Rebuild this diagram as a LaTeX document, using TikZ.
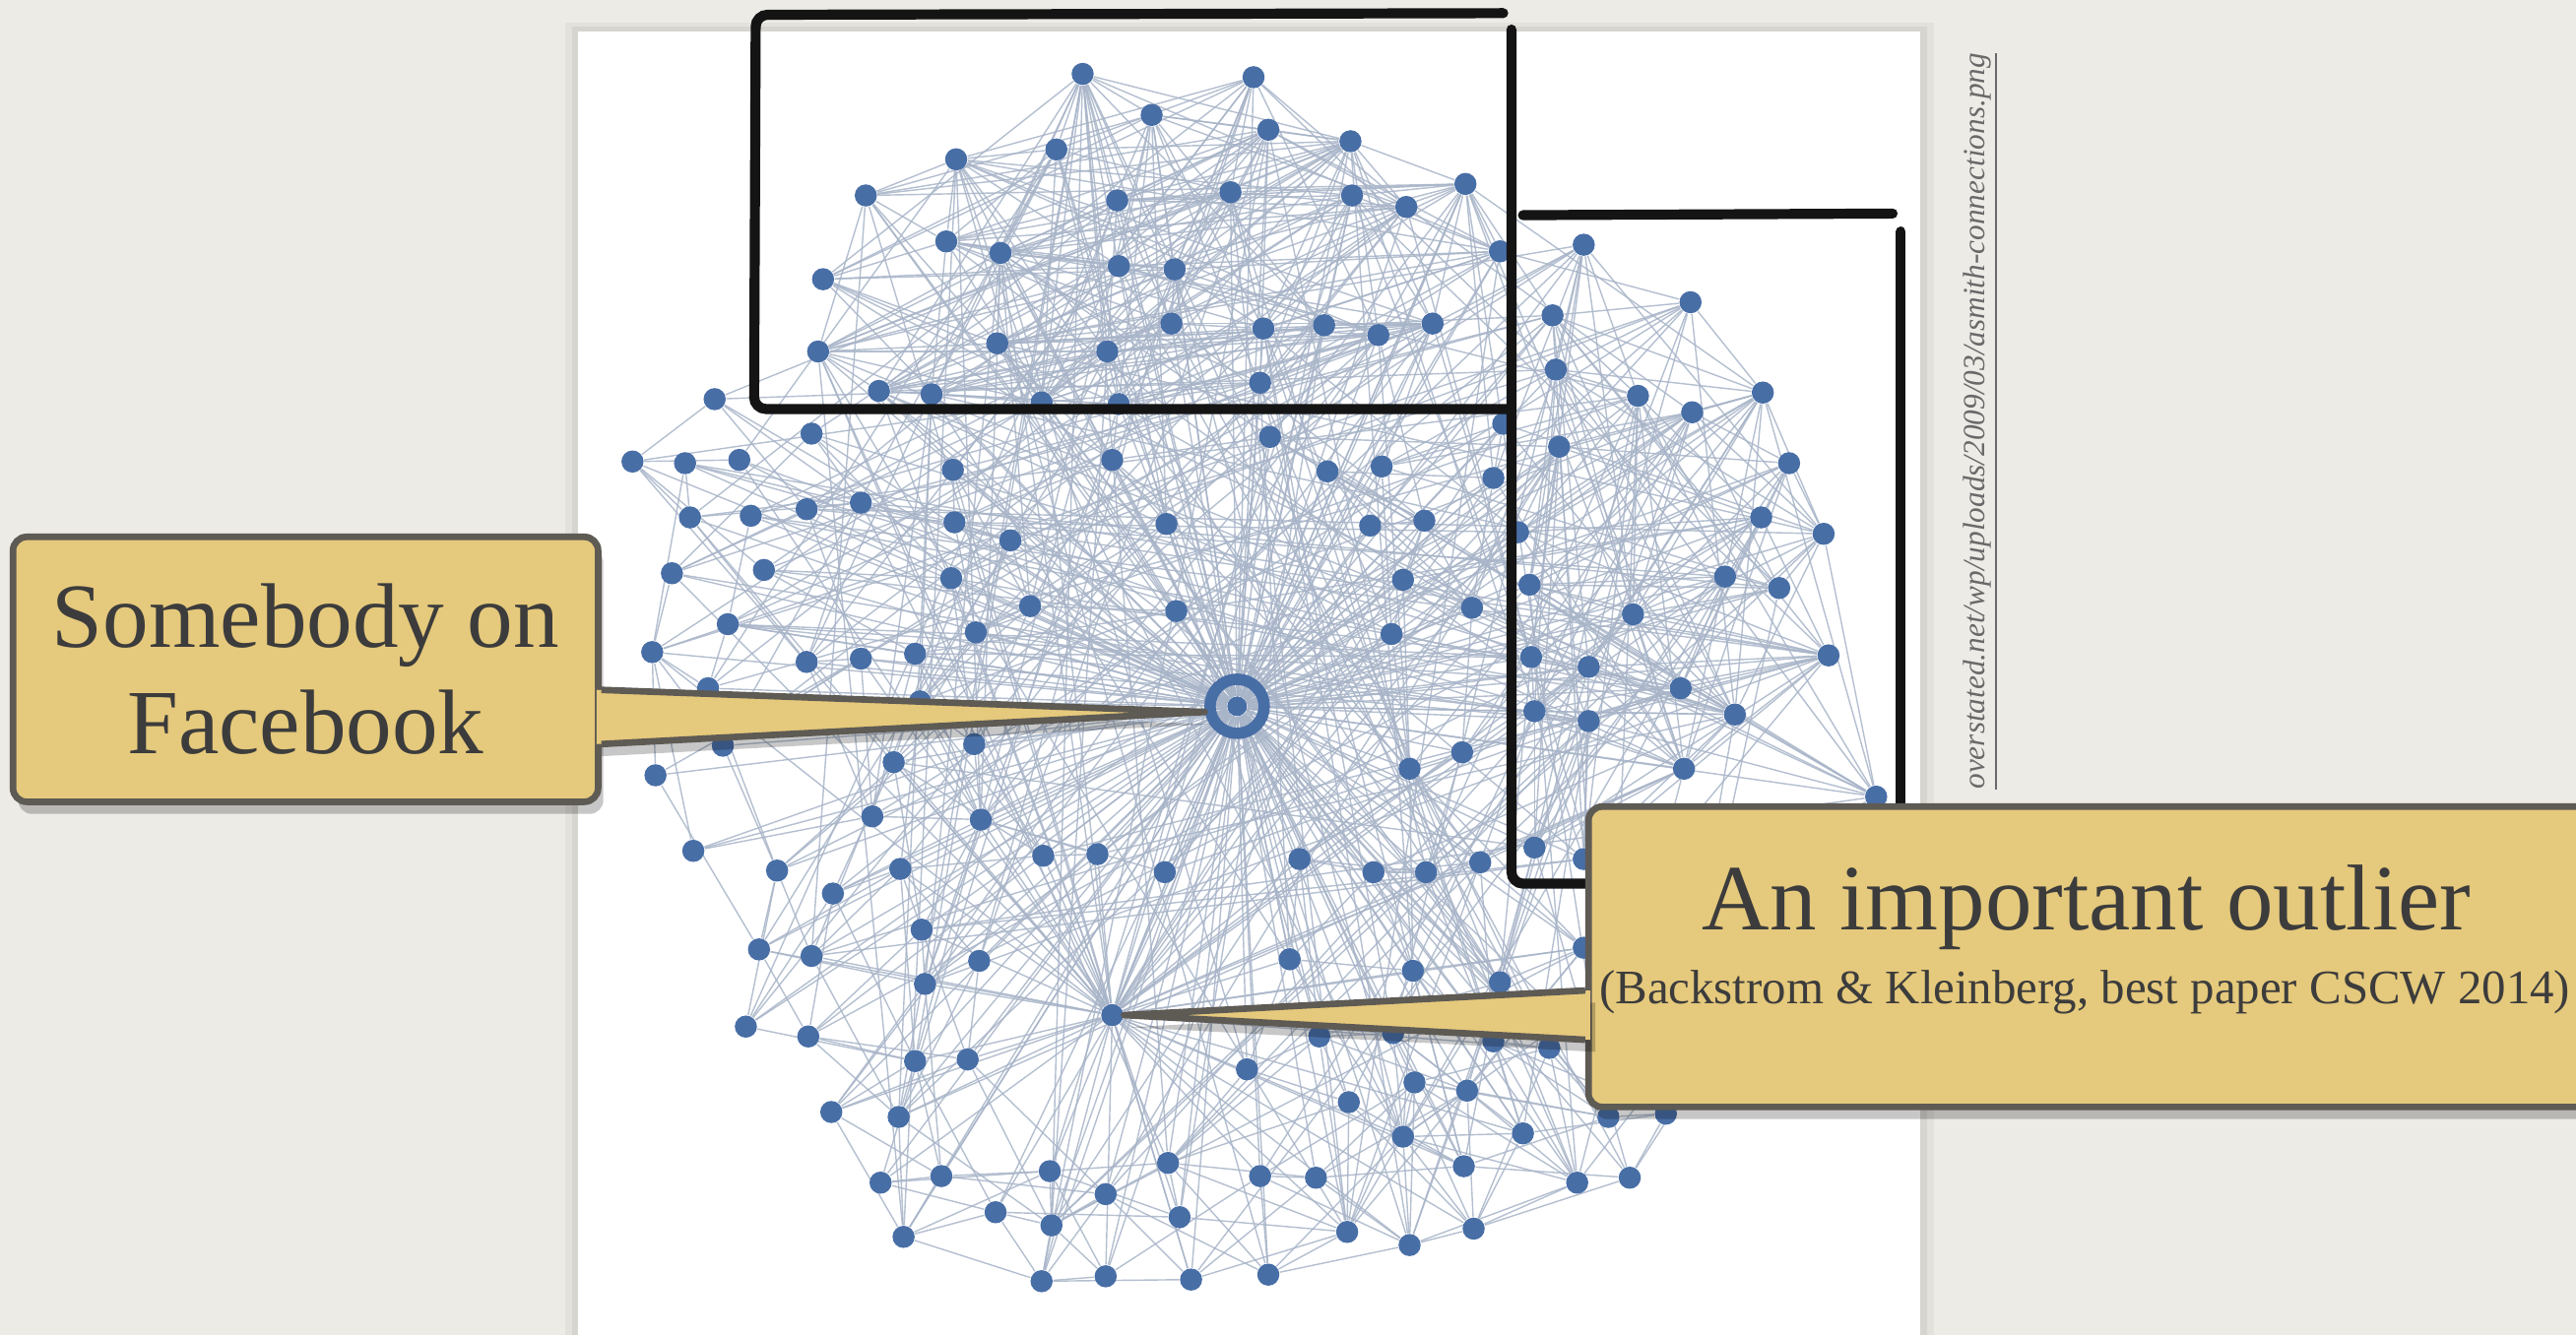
\documentclass[tikz,border=0pt]{standalone}
\usepackage{fontspec}
\setmainfont{Liberation Serif}
\usetikzlibrary{calc,shadows}

\definecolor{paper}{RGB}{237,235,230}
\definecolor{dotblue}{RGB}{72,110,166}
\definecolor{edgegrey}{RGB}{168,180,200}
\definecolor{notefill}{RGB}{229,201,124}
\definecolor{noteline}{RGB}{94,90,84}
\definecolor{notetext}{RGB}{60,60,60}
\definecolor{srcgrey}{RGB}{105,105,105}

\pgfdeclarelayer{paperbg}
\pgfdeclarelayer{edges}
\pgfsetlayers{paperbg,edges,main}

% node positions (top cluster, right cluster, the rest)
\def\tlist{659/45, 763/47, 701/70, 772/79, 643/91, 582/97, 822/86, 892/112, 527/119, 680/122, 749/117, 823/119, 856/126, 576/147, 609/154, 681/162, 715/164, 913/153, 501/170, 713/197, 769/200, 806/198, 839/204, 872/197, 607/209, 674/214, 498/214, 535/238, 567/240, 634/245, 681/246, 767/233}
\def\rlist{964/149, 1029/184, 945/192, 947/225, 997/241, 1030/251, 1073/239, 949/272, 1089/282, 1072/315, 1110/325, 924/324, 931/356, 1050/351, 1083/358, 994/374, 932/400, 967/406, 1113/399, 1023/419, 934/433, 967/439, 1056/435, 1025/468, 1142/485, 934/516, 964/523}
\def\olist{435/243, 494/264, 677/280, 773/266, 385/281, 417/282, 450/280, 580/286, 808/287, 841/284, 915/258, 909/291, 420/315, 457/314, 491/310, 524/306, 581/318, 615/329, 710/319, 834/320, 867/317, 409/349, 465/347, 579/352, 627/369, 716/372, 854/353, 896/370, 594/385, 847/386, 443/380, 397/397, 491/403, 524/401, 557/398, 431/419,
 560/427, 440/454, 399/472, 544/464, 593/453, 531/497, 597/499, 422/518, 473/530, 548/529, 507/544, 635/521, 668/520, 709/531, 561/566, 462/578, 494/582, 596/585, 563/599, 454/625, 492/631, 557/646, 589/645, 506/677, 547/680, 536/720, 573/716, 639/713, 711/708, 606/738, 640/746, 673/727, 718/741, 550/753, 634/780, 673/777, 725/779, 772/776, 767/716, 759/651, 890/458, 858/468, 791/523, 836/531, 868/531, 901/525, 785/584, 860/591, 913/598, 964/577, 803/631, 848/629, 909/634, 943/638, 861/659, 893/664, 821/671, 854/692, 927/690, 979/680, 1014/678, 801/717, 891/710, 960/720, 992/717, 820/750, 858/758, 897/748}

\begin{document}
\begin{tikzpicture}[x=0.01668cm,y=-0.01668cm,
    dot/.style={circle,fill=dotblue,inner sep=0pt,minimum size=0.225cm},
    hubring/.style={circle,draw=dotblue,line width=3.3pt,inner sep=0pt,minimum size=0.55cm},
    edge/.style={draw=edgegrey,line width=0.4pt,opacity=0.85},
    frame/.style={draw=black!92,line width=2.9pt,line cap=round,rounded corners=0.12cm},
    shade/.style={drop shadow={shadow xshift=1.5pt,shadow yshift=-3.5pt,opacity=0.22,fill=black}},
    notebox/.style={fill=notefill,draw=noteline,line width=1.9pt,rounded corners=0.14cm,
        text=notetext,align=center,inner sep=0pt,shade},
    notelabel/.style={text=notetext,inner sep=0pt,anchor=base},
    srcnote/.style={text=srcgrey,inner sep=0pt,font=\fontsize{8.9}{11}\selectfont\itshape}]
\useasboundingbox (0,0) rectangle (1568,813);
\clip (0,0) rectangle (1568,813);

\begin{pgfonlayer}{paperbg}
  \fill[paper] (0,0) rectangle (1568,813);
  \fill[black,opacity=0.04] (344,14) rectangle (1177,813);
  \fill[black,opacity=0.05] (348,16) rectangle (1173,813);
  \fill[white] (352,19) rectangle (1169,813);
\end{pgfonlayer}

% nodes
\foreach \x/\y [count=\i] in \tlist {\node[dot] (t\i) at (\x,\y) {};}
\foreach \x/\y [count=\i] in \rlist {\node[dot] (r\i) at (\x,\y) {};}
\foreach \x/\y [count=\i] in \olist {\node[dot] (o\i) at (\x,\y) {};}
\node[hubring] (hub) at (753,430) {};
\node[dot,minimum size=0.2cm] (hubcore) at (hub) {};
\node[dot] (outl) at (677,618) {};

% edges
\pgfmathsetseed{4711}
\begin{pgfonlayer}{edges}
  \foreach \i in {1,...,32} {\draw[edge] (hubcore) -- (t\i);}
  \foreach \i in {1,...,27} {\draw[edge] (hubcore) -- (r\i);}
  \foreach \i in {1,...,104} {\draw[edge] (hubcore) -- (o\i);}
  \draw[edge] (hubcore) -- (outl);
  \foreach \i in {1,...,32} {\foreach \j in {1,...,32} {
    \ifnum\j>\i
      \pgfmathtruncatemacro\ok{rnd<0.4}
      \ifnum\ok=1 \draw[edge] (t\i) -- (t\j);\fi
    \fi}}
  \foreach \i in {1,...,27} {\foreach \j in {1,...,27} {
    \ifnum\j>\i
      \pgfmathtruncatemacro\ok{rnd<0.38}
      \ifnum\ok=1 \draw[edge] (r\i) -- (r\j);\fi
    \fi}}
  \foreach \x/\y [count=\i] in \olist {\foreach \u/\v [count=\j] in \olist {
    \ifnum\j>\i
      \pgfmathtruncatemacro\ok{and(veclen((\x-\u)/10,(\y-\v)/10)<12.5,rnd<0.4)}
      \ifnum\ok=1 \draw[edge] (o\i) -- (o\j);\fi
    \fi}}
  \foreach \i in {1,...,104} {
    \pgfmathtruncatemacro\ok{rnd<0.45}
    \ifnum\ok=1 \draw[edge] (outl) -- (o\i);\fi}
  \foreach \i in {1,...,32} {
    \pgfmathtruncatemacro\ok{rnd<0.2}
    \ifnum\ok=1 \draw[edge] (outl) -- (t\i);\fi}
  \foreach \i in {1,...,27} {
    \pgfmathtruncatemacro\ok{rnd<0.2}
    \ifnum\ok=1 \draw[edge] (outl) -- (r\i);\fi}
  \foreach \i in {1,...,32} {\foreach \j in {1,...,104} {
    \pgfmathtruncatemacro\ok{rnd<0.035}
    \ifnum\ok=1 \draw[edge] (t\i) -- (o\j);\fi}}
  \foreach \i in {1,...,27} {\foreach \j in {1,...,104} {
    \pgfmathtruncatemacro\ok{rnd<0.04}
    \ifnum\ok=1 \draw[edge] (r\i) -- (o\j);\fi}}
  \foreach \i in {1,...,32} {\foreach \j in {1,...,27} {
    \pgfmathtruncatemacro\ok{rnd<0.03}
    \ifnum\ok=1 \draw[edge] (t\i) -- (r\j);\fi}}
\end{pgfonlayer}

% hand drawn frames
\draw[frame] (915,8) -- (460,9) -- (459,249) -- (918,249);
\draw[frame] (920,18) -- (920,538) -- (1150,538);
\draw[frame] (927,131) -- (1152,130);
\draw[frame] (1157,141) -- (1157,520);

% source
\node[srcnote,rotate=90,anchor=base east] (src) at (1208,32)
  {\underline{overstated.net/wp/uploads/2009/03/asmith-connections.png}};

% callouts
\node[notebox,minimum width=5.94cm,minimum height=2.69cm,
  font=\fontsize{26.5}{30.8}\selectfont] (fbnote) at (186,407.5) {Somebody on\\Facebook};
\fill[notefill,shade] ($(fbnote.east)+(-3,12.5)$) -- (hub.190) -- ($(fbnote.east)+(-3,45.5)$) -- cycle;
\draw[noteline,line width=1.9pt,line join=round] ($(fbnote.east)+(0,12.5)$) -- (hub.190) -- ($(fbnote.east)+(0,45.5)$);

\node[notebox,minimum width=10.56cm,minimum height=3.05cm] (otnote) at (1283.5,582.5) {};
\fill[notefill,shade] ($(otnote.west)+(3,20.5)$) -- (outl.east) -- ($(otnote.west)+(3,50.5)$) -- cycle;
\draw[noteline,line width=1.9pt,line join=round] ($(otnote.west)+(0,20.5)$) -- (outl.east) -- ($(otnote.west)+(0,50.5)$);
\node[notelabel,font=\fontsize{27}{29}\selectfont] (ottitle) at (1270,566) {An important outlier};
\node[notelabel,font=\fontsize{13.9}{16}\selectfont] (otcite) at (1269,611) {(Backstrom \& Kleinberg, best paper CSCW 2014)};
\end{tikzpicture}
\end{document}
